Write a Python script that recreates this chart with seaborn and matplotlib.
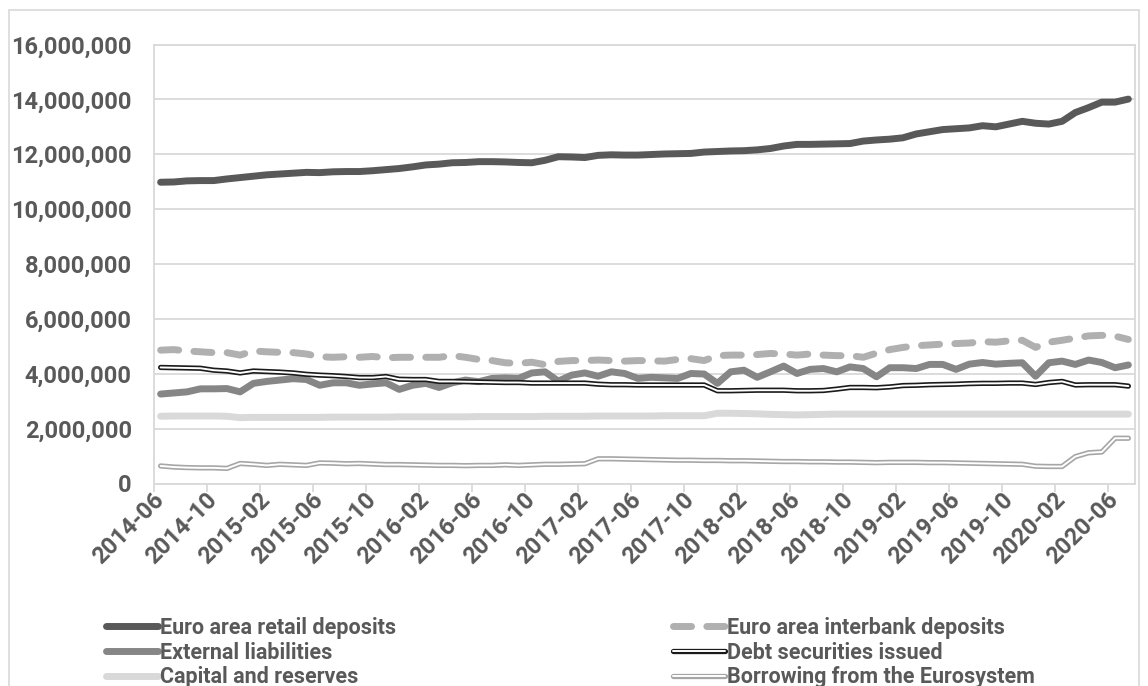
import numpy as np
import pandas as pd
import matplotlib
matplotlib.use("Agg")
import matplotlib.pyplot as plt
import matplotlib.patheffects as pe
from matplotlib.patches import Rectangle
from matplotlib.ticker import FuncFormatter, FixedLocator
import seaborn as sns

months = pd.period_range("2014-06", "2020-07", freq="M").strftime("%Y-%m").tolist()

retail = [10.98, 10.99, 11.03, 11.04, 11.04, 11.10, 11.15, 11.20, 11.25, 11.28,
          11.31, 11.34, 11.33, 11.36, 11.37, 11.37, 11.40, 11.44, 11.48, 11.54,
          11.61, 11.64, 11.69, 11.70, 11.73, 11.73, 11.72, 11.70, 11.69, 11.78,
          11.91, 11.90, 11.88, 11.96, 11.98, 11.97, 11.97, 11.99, 12.01, 12.02,
          12.03, 12.08, 12.10, 12.12, 12.13, 12.16, 12.21, 12.30, 12.36, 12.36,
          12.37, 12.38, 12.39, 12.48, 12.52, 12.55, 12.60, 12.74, 12.82, 12.90,
          12.93, 12.96, 13.04, 13.00, 13.10, 13.20, 13.13, 13.10, 13.20, 13.52,
          13.70, 13.90, 13.90, 14.01]
interbank = [4.86, 4.88, 4.83, 4.80, 4.77, 4.77, 4.68, 4.83, 4.80, 4.78,
             4.77, 4.72, 4.62, 4.60, 4.62, 4.60, 4.63, 4.58, 4.60, 4.60,
             4.60, 4.60, 4.66, 4.60, 4.52, 4.48, 4.40, 4.38, 4.42, 4.33,
             4.45, 4.48, 4.48, 4.50, 4.48, 4.46, 4.48, 4.47, 4.46, 4.52,
             4.55, 4.48, 4.66, 4.68, 4.68, 4.70, 4.74, 4.72, 4.68, 4.72,
             4.68, 4.66, 4.66, 4.60, 4.75, 4.88, 4.96, 5.02, 5.05, 5.08,
             5.10, 5.12, 5.17, 5.15, 5.20, 5.22, 4.96, 5.15, 5.22, 5.30,
             5.38, 5.40, 5.37, 5.25]
external = [3.26, 3.30, 3.34, 3.45, 3.45, 3.46, 3.34, 3.65, 3.72, 3.77,
            3.82, 3.79, 3.58, 3.67, 3.67, 3.58, 3.63, 3.67, 3.43, 3.58,
            3.65, 3.50, 3.67, 3.77, 3.71, 3.83, 3.85, 3.83, 4.03, 4.07,
            3.73, 3.95, 4.03, 3.91, 4.07, 4.01, 3.83, 3.87, 3.85, 3.83,
            4.01, 3.99, 3.65, 4.07, 4.13, 3.87, 4.07, 4.28, 4.01, 4.16,
            4.19, 4.07, 4.25, 4.19, 3.89, 4.22, 4.22, 4.19, 4.34, 4.34,
            4.16, 4.35, 4.41, 4.35, 4.38, 4.40, 3.91, 4.40, 4.46, 4.34,
            4.50, 4.41, 4.22, 4.32]
debt = [4.23, 4.22, 4.21, 4.20, 4.13, 4.10, 4.03, 4.10, 4.08, 4.06,
        4.03, 3.98, 3.95, 3.93, 3.90, 3.86, 3.86, 3.90, 3.80, 3.79,
        3.79, 3.72, 3.72, 3.71, 3.70, 3.69, 3.68, 3.68, 3.66, 3.66,
        3.66, 3.66, 3.66, 3.62, 3.60, 3.60, 3.59, 3.59, 3.59, 3.59,
        3.59, 3.59, 3.38, 3.38, 3.39, 3.40, 3.40, 3.40, 3.38, 3.38,
        3.39, 3.44, 3.50, 3.50, 3.49, 3.52, 3.57, 3.58, 3.60, 3.61,
        3.62, 3.64, 3.65, 3.65, 3.66, 3.66, 3.61, 3.68, 3.72, 3.59,
        3.60, 3.60, 3.60, 3.55]
capital = [2.45, 2.46, 2.46, 2.46, 2.46, 2.45, 2.40, 2.41, 2.41, 2.41,
           2.41, 2.41, 2.41, 2.42, 2.42, 2.42, 2.42, 2.42, 2.43, 2.43,
           2.43, 2.43, 2.43, 2.43, 2.44, 2.44, 2.44, 2.44, 2.44, 2.45,
           2.45, 2.45, 2.45, 2.46, 2.46, 2.46, 2.46, 2.46, 2.47, 2.47,
           2.47, 2.47, 2.56, 2.56, 2.55, 2.54, 2.52, 2.51, 2.50, 2.51,
           2.52, 2.53, 2.53, 2.53, 2.53, 2.53, 2.53, 2.53, 2.53, 2.53,
           2.53, 2.53, 2.53, 2.53, 2.53, 2.53, 2.53, 2.53, 2.53, 2.53,
           2.53, 2.53, 2.53, 2.53]
borrowing = [0.64, 0.60, 0.58, 0.57, 0.57, 0.55, 0.73, 0.70, 0.66, 0.70,
             0.68, 0.66, 0.75, 0.74, 0.72, 0.73, 0.71, 0.69, 0.69, 0.68,
             0.67, 0.66, 0.66, 0.65, 0.66, 0.66, 0.68, 0.66, 0.68, 0.70,
             0.70, 0.71, 0.72, 0.90, 0.90, 0.89, 0.88, 0.87, 0.86, 0.85,
             0.85, 0.84, 0.84, 0.83, 0.83, 0.82, 0.81, 0.80, 0.80, 0.79,
             0.79, 0.78, 0.78, 0.77, 0.76, 0.77, 0.77, 0.77, 0.76, 0.76,
             0.75, 0.74, 0.73, 0.72, 0.71, 0.70, 0.63, 0.62, 0.62, 0.98,
             1.12, 1.15, 1.65, 1.65]

series_names = ["Euro area retail deposits", "Euro area interbank deposits",
                "External liabilities", "Debt securities issued",
                "Capital and reserves", "Borrowing from the Eurosystem"]
series_values = [retail, interbank, external, debt, capital, borrowing]

sns.set_theme(style="white")
FONT = ["Roboto", "DejaVu Sans"]
plt.rcParams["font.family"] = FONT
plt.rcParams["font.weight"] = "bold"

TXT = "#595959"
GRID = "#d9d9d9"

fig = plt.figure(figsize=(11.48, 6.86), dpi=100)
ax = fig.add_axes([154 / 1148, 1 - 483.5 / 686, (1135 - 154) / 1148, (483.5 - 44.5) / 686])

xpos = np.arange(len(months))
styles = [
    dict(color="#595959", lw=5.0),
    dict(color="#b0b0b0", lw=5.0),
    dict(color="#868686", lw=5.0),
    dict(color="white", lw=1.4, outline="#1a1a1a", olw=3.8),
    dict(color="#d9d9d9", lw=5.0),
    dict(color="white", lw=1.4, outline="#a6a6a6", olw=3.8),
]

handles = []
for name, vals, st in zip(series_names, series_values, styles):
    df = pd.DataFrame({"x": xpos, "y": np.array(vals) * 1e6})
    sns.lineplot(data=df, x="x", y="y", ax=ax, color=st["color"], linewidth=st["lw"],
                 legend=False)
    line = ax.get_lines()[-1]
    line.set_solid_capstyle("round")
    line.set_solid_joinstyle("round")
    line.set_label(name)
    if name == "Euro area interbank deposits":
        line.set_linestyle((0, (2.6, 2.2)))
        line.set_dash_capstyle("round")
    if "outline" in st:
        line.set_path_effects([pe.Stroke(linewidth=st["olw"], foreground=st["outline"]),
                               pe.Normal()])
    handles.append(line)

ax.set_xlim(-0.5, len(months) - 0.5)
ax.set_ylim(0, 16e6)
ax.set_yticks(np.arange(0, 16e6 + 1, 2e6))
ax.yaxis.set_major_formatter(FuncFormatter(lambda v, p: f"{int(v):,}"))
ax.grid(axis="y", color=GRID, linewidth=1.3)
ax.grid(axis="x", visible=False)
for s in ax.spines.values():
    s.set_visible(True)
    s.set_color(GRID)
    s.set_linewidth(1.3)

label_idx = list(range(0, len(months), 4))
ax.xaxis.set_major_locator(FixedLocator(label_idx))
ax.set_xticklabels([months[i] for i in label_idx])
ax.xaxis.set_minor_locator(FixedLocator([i - 0.5 for i in range(0, len(months) + 1, 4)]))
ax.tick_params(axis="x", which="major", length=0, pad=9, labelsize=17, labelcolor=TXT)
ax.tick_params(axis="x", which="minor", length=6, width=1.3, color=GRID, bottom=True)
ax.tick_params(axis="y", length=0, pad=16, labelsize=17, labelcolor=TXT)
for lab in ax.get_xticklabels():
    lab.set_rotation(45)
    lab.set_rotation_mode("anchor")
    lab.set_ha("right")
    lab.set_va("center")
    lab.set_fontweight("bold")
for lab in ax.get_yticklabels():
    lab.set_fontweight("bold")
ax.set_xlabel("")
ax.set_ylabel("")

leg_kw = dict(frameon=False, loc="upper left", borderpad=0, borderaxespad=0,
              handlelength=2.4, handletextpad=0.1, labelspacing=0.12,
              prop={"family": FONT, "weight": "bold", "size": 15.5},
              labelcolor=TXT)
top = 1 - 617 / 686
leg1 = fig.legend([handles[0], handles[2], handles[4]],
                  [series_names[0], series_names[2], series_names[4]],
                  bbox_to_anchor=(106 / 1148, top), **leg_kw)
leg2 = fig.legend([handles[1], handles[3], handles[5]],
                  [series_names[1], series_names[3], series_names[5]],
                  bbox_to_anchor=(673 / 1148, top), **leg_kw)

fig.patches.append(Rectangle((9 / 1148, -0.02), (1139 - 9) / 1148, 1.02 - 10 / 686,
                             transform=fig.transFigure, fill=False,
                             edgecolor=GRID, linewidth=1.2))

fig.savefig("out.png", dpi=100, facecolor="white")
